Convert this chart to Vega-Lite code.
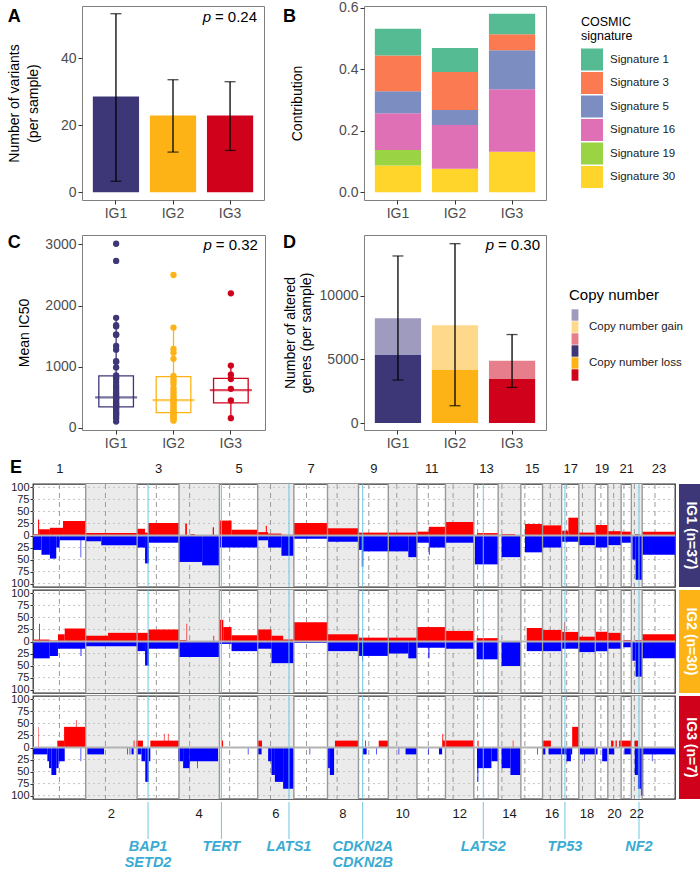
{
"$schema":"https://vega.github.io/schema/vega-lite/v6.json",
"padding":{"left":7,"top":0,"right":0,"bottom":0},
"background":"white",
"align":"each",
"resolve":{"scale":{"color":"independent","stroke":"independent"},"legend":{"color":"independent","stroke":"independent"}},
"config":{
 "font":"Liberation Sans",
 "view":{"stroke":"#7f7f7f","strokeWidth":1},
 "axis":{"labelColor":"#4d4d4d","labelFontSize":14,"titleFontSize":14,"titleFontWeight":"normal","titleColor":"#000000","tickColor":"#333333","tickSize":4,"domain":false,"grid":false,"labelPadding":2,"titlePadding":6,"labelOverlap":false},
 "title":{"fontSize":18,"fontWeight":"bold","anchor":"start","frame":"bounds","baseline":"top","color":"#000000"}
},
"datasets":{
 "ta":[{"g":"IG1","m":28.6,"lo":3.3,"hi":53.3},{"g":"IG2","m":22.9,"lo":12.0,"hi":33.6},{"g":"IG3","m":22.9,"lo":12.5,"hi":33.0}],
 "tb":[
  {"g":"IG1","sig":"Signature 30","val":0.087},{"g":"IG1","sig":"Signature 19","val":0.051},{"g":"IG1","sig":"Signature 16","val":0.119},{"g":"IG1","sig":"Signature 5","val":0.072},{"g":"IG1","sig":"Signature 3","val":0.116},{"g":"IG1","sig":"Signature 1","val":0.087},
  {"g":"IG2","sig":"Signature 30","val":0.077},{"g":"IG2","sig":"Signature 16","val":0.142},{"g":"IG2","sig":"Signature 5","val":0.049},{"g":"IG2","sig":"Signature 3","val":0.123},{"g":"IG2","sig":"Signature 1","val":0.078},
  {"g":"IG3","sig":"Signature 30","val":0.132},{"g":"IG3","sig":"Signature 16","val":0.203},{"g":"IG3","sig":"Signature 5","val":0.127},{"g":"IG3","sig":"Signature 3","val":0.052},{"g":"IG3","sig":"Signature 1","val":0.067}],
 "cbox":[{"g":"IG1","lo":105,"q1":345,"med":500,"q3":850,"hi":1800},{"g":"IG2","lo":120,"q1":250,"med":455,"q3":840,"hi":1640},{"g":"IG3","lo":160,"q1":410,"med":620,"q3":810,"hi":1020}],
 "cpts":[
  {"g":"IG1","ic50":3010},{"g":"IG1","ic50":2730},{"g":"IG1","ic50":1800},{"g":"IG1","ic50":1680},{"g":"IG1","ic50":1660},{"g":"IG1","ic50":1530},{"g":"IG1","ic50":1520},{"g":"IG1","ic50":1340},{"g":"IG1","ic50":1280},{"g":"IG1","ic50":1090},{"g":"IG1","ic50":1080},{"g":"IG1","ic50":990},{"g":"IG1","ic50":860},{"g":"IG1","ic50":830},{"g":"IG1","ic50":800},{"g":"IG1","ic50":750},{"g":"IG1","ic50":700},{"g":"IG1","ic50":660},{"g":"IG1","ic50":620},{"g":"IG1","ic50":580},{"g":"IG1","ic50":550},{"g":"IG1","ic50":520},{"g":"IG1","ic50":500},{"g":"IG1","ic50":480},{"g":"IG1","ic50":460},{"g":"IG1","ic50":430},{"g":"IG1","ic50":400},{"g":"IG1","ic50":380},{"g":"IG1","ic50":360},{"g":"IG1","ic50":340},{"g":"IG1","ic50":310},{"g":"IG1","ic50":280},{"g":"IG1","ic50":250},{"g":"IG1","ic50":230},{"g":"IG1","ic50":200},{"g":"IG1","ic50":160},{"g":"IG1","ic50":105},
  {"g":"IG2","ic50":2500},{"g":"IG2","ic50":1640},{"g":"IG2","ic50":1290},{"g":"IG2","ic50":1230},{"g":"IG2","ic50":1130},{"g":"IG2","ic50":850},{"g":"IG2","ic50":800},{"g":"IG2","ic50":760},{"g":"IG2","ic50":720},{"g":"IG2","ic50":650},{"g":"IG2","ic50":600},{"g":"IG2","ic50":560},{"g":"IG2","ic50":520},{"g":"IG2","ic50":480},{"g":"IG2","ic50":460},{"g":"IG2","ic50":440},{"g":"IG2","ic50":420},{"g":"IG2","ic50":390},{"g":"IG2","ic50":360},{"g":"IG2","ic50":330},{"g":"IG2","ic50":300},{"g":"IG2","ic50":280},{"g":"IG2","ic50":260},{"g":"IG2","ic50":240},{"g":"IG2","ic50":220},{"g":"IG2","ic50":200},{"g":"IG2","ic50":180},{"g":"IG2","ic50":160},{"g":"IG2","ic50":140},{"g":"IG2","ic50":120},
  {"g":"IG3","ic50":2200},{"g":"IG3","ic50":1020},{"g":"IG3","ic50":870},{"g":"IG3","ic50":800},{"g":"IG3","ic50":640},{"g":"IG3","ic50":450},{"g":"IG3","ic50":160}],
 "dbar":[{"g":"IG1","t":"loss","k":"IG1 loss","n":5340},{"g":"IG1","t":"gain","k":"IG1 gain","n":2905},{"g":"IG2","t":"loss","k":"IG2 loss","n":4160},{"g":"IG2","t":"gain","k":"IG2 gain","n":3530},{"g":"IG3","t":"loss","k":"IG3 loss","n":3500},{"g":"IG3","t":"gain","k":"IG3 gain","n":1390}],
 "derr":[{"g":"IG1","lo":3375,"hi":13132},{"g":"IG2","lo":1360,"hi":14097},{"g":"IG3","lo":2795,"hi":6955}],
 "chr":[
  {"n":1,"s":0,"e":249.25,"cen":125.0,"m":124.6,"ev":false},
  {"n":2,"s":249.25,"e":492.45,"cen":342.55,"m":370.9,"ev":true},
  {"n":3,"s":492.45,"e":690.47,"cen":583.45,"m":591.5,"ev":false},
  {"n":4,"s":690.47,"e":881.62,"cen":740.87,"m":786.0,"ev":true},
  {"n":5,"s":881.62,"e":1062.54,"cen":930.02,"m":972.1,"ev":false},
  {"n":6,"s":1062.54,"e":1233.66,"cen":1123.54,"m":1148.1,"ev":true},
  {"n":7,"s":1233.66,"e":1392.8,"cen":1293.56,"m":1313.2,"ev":false},
  {"n":8,"s":1392.8,"e":1539.16,"cen":1438.4,"m":1466.0,"ev":true},
  {"n":9,"s":1539.16,"e":1680.37,"cen":1588.16,"m":1609.8,"ev":false},
  {"n":10,"s":1680.37,"e":1815.9,"cen":1720.57,"m":1748.1,"ev":true},
  {"n":11,"s":1815.9,"e":1950.91,"cen":1869.6,"m":1883.4,"ev":false},
  {"n":12,"s":1950.91,"e":2084.76,"cen":1986.71,"m":2017.8,"ev":true},
  {"n":13,"s":2084.76,"e":2199.93,"cen":2102.66,"m":2142.3,"ev":false},
  {"n":14,"s":2199.93,"e":2307.28,"cen":2217.53,"m":2253.6,"ev":true},
  {"n":15,"s":2307.28,"e":2409.81,"cen":2326.28,"m":2358.5,"ev":false},
  {"n":16,"s":2409.81,"e":2500.16,"cen":2446.41,"m":2455.0,"ev":true},
  {"n":17,"s":2500.16,"e":2581.36,"cen":2524.16,"m":2540.8,"ev":false},
  {"n":18,"s":2581.36,"e":2659.44,"cen":2598.56,"m":2620.4,"ev":true},
  {"n":19,"s":2659.44,"e":2718.57,"cen":2685.94,"m":2689.0,"ev":false},
  {"n":20,"s":2718.57,"e":2781.6,"cen":2746.07,"m":2750.1,"ev":true},
  {"n":21,"s":2781.6,"e":2829.73,"cen":2794.8,"m":2805.7,"ev":false},
  {"n":22,"s":2829.73,"e":2881.03,"cen":2844.43,"m":2855.4,"ev":true},
  {"n":23,"s":2881.03,"e":3036.3,"cen":2941.63,"m":2958.7,"ev":false}],
 "genes":[{"x":544.2,"lab":"BAP1\nSETD2"},{"x":891.1,"lab":"TERT"},{"x":1210.6,"lab":"LATS1"},{"x":1559.3,"lab":"CDKN2A\nCDKN2B"},{"x":2129.6,"lab":"LATS2"},{"x":2515.8,"lab":"TP53"},{"x":2866.0,"lab":"NF2"}],
 "hl":[{"h":-100},{"h":-75},{"h":-50},{"h":-25},{"h":25},{"h":50},{"h":75},{"h":100}],
 "zl":[{"z":0}],
 "cnv":[
  {"g":"IG1","s":0,"e":24,"v":3},{"g":"IG1","s":24,"e":29,"v":33},{"g":"IG1","s":29,"e":80,"v":13},{"g":"IG1","s":80,"e":142,"v":16},{"g":"IG1","s":142,"e":249,"v":30},
  {"g":"IG1","s":249,"e":492,"v":5},{"g":"IG1","s":492,"e":530,"v":14},{"g":"IG1","s":530,"e":545,"v":6},{"g":"IG1","s":545,"e":690,"v":26},
  {"g":"IG1","s":720,"e":728,"v":25},{"g":"IG1","s":745,"e":765,"v":3},{"g":"IG1","s":850,"e":856,"v":17},
  {"g":"IG1","s":882,"e":939,"v":31},{"g":"IG1","s":939,"e":1062,"v":12},
  {"g":"IG1","s":1062,"e":1112,"v":7},{"g":"IG1","s":1101,"e":1106,"v":20},{"g":"IG1","s":1112,"e":1175,"v":4},{"g":"IG1","s":1175,"e":1233,"v":1.5},
  {"g":"IG1","s":1234,"e":1393,"v":26},{"g":"IG1","s":1393,"e":1539,"v":15},{"g":"IG1","s":1539,"e":1680,"v":6},{"g":"IG1","s":1680,"e":1816,"v":6},
  {"g":"IG1","s":1816,"e":1872,"v":8},{"g":"IG1","s":1872,"e":1951,"v":18},{"g":"IG1","s":1951,"e":2085,"v":28},{"g":"IG1","s":2100,"e":2200,"v":5},
  {"g":"IG1","s":2216,"e":2280,"v":3},{"g":"IG1","s":2327,"e":2410,"v":24},{"g":"IG1","s":2410,"e":2500,"v":21},
  {"g":"IG1","s":2500,"e":2532,"v":10},{"g":"IG1","s":2532,"e":2579,"v":37},{"g":"IG1","s":2579,"e":2581,"v":10},
  {"g":"IG1","s":2581,"e":2659,"v":6},{"g":"IG1","s":2659,"e":2719,"v":22},{"g":"IG1","s":2719,"e":2782,"v":9},{"g":"IG1","s":2782,"e":2830,"v":8},
  {"g":"IG1","s":2847,"e":2870,"v":3},{"g":"IG1","s":2881,"e":3036,"v":8},
  {"g":"IG1","s":0,"e":40,"v":-30},{"g":"IG1","s":40,"e":80,"v":-40},{"g":"IG1","s":80,"e":110,"v":-48},{"g":"IG1","s":110,"e":126,"v":-25},{"g":"IG1","s":126,"e":249,"v":-10},{"g":"IG1","s":225,"e":228,"v":-45},
  {"g":"IG1","s":249,"e":323,"v":-12},{"g":"IG1","s":323,"e":492,"v":-20},
  {"g":"IG1","s":492,"e":530,"v":-25},{"g":"IG1","s":530,"e":548,"v":-58},{"g":"IG1","s":548,"e":690,"v":-15},
  {"g":"IG1","s":690,"e":800,"v":-55},{"g":"IG1","s":800,"e":882,"v":-62},{"g":"IG1","s":882,"e":1062,"v":-25},
  {"g":"IG1","s":1062,"e":1112,"v":-10},{"g":"IG1","s":1112,"e":1175,"v":-25},{"g":"IG1","s":1175,"e":1233,"v":-42},
  {"g":"IG1","s":1234,"e":1393,"v":-7},{"g":"IG1","s":1393,"e":1539,"v":-13},
  {"g":"IG1","s":1539,"e":1555,"v":-30},{"g":"IG1","s":1555,"e":1562,"v":-65},{"g":"IG1","s":1562,"e":1680,"v":-33},
  {"g":"IG1","s":1680,"e":1775,"v":-33},{"g":"IG1","s":1775,"e":1816,"v":-45},
  {"g":"IG1","s":1816,"e":1872,"v":-15},{"g":"IG1","s":1872,"e":1876,"v":-40},{"g":"IG1","s":1876,"e":1951,"v":-25},
  {"g":"IG1","s":1951,"e":2085,"v":-15},{"g":"IG1","s":2090,"e":2200,"v":-60},{"g":"IG1","s":2216,"e":2307,"v":-45},
  {"g":"IG1","s":2327,"e":2410,"v":-35},{"g":"IG1","s":2410,"e":2500,"v":-25},{"g":"IG1","s":2500,"e":2581,"v":-13},
  {"g":"IG1","s":2581,"e":2659,"v":-20},{"g":"IG1","s":2659,"e":2719,"v":-25},{"g":"IG1","s":2719,"e":2782,"v":-20},
  {"g":"IG1","s":2782,"e":2830,"v":-15},{"g":"IG1","s":2835,"e":2850,"v":-50},{"g":"IG1","s":2850,"e":2881,"v":-92},{"g":"IG1","s":2881,"e":3036,"v":-40},

  {"g":"IG2","s":0,"e":79,"v":4},{"g":"IG2","s":29,"e":33,"v":37},{"g":"IG2","s":79,"e":118,"v":2},{"g":"IG2","s":118,"e":150,"v":15},{"g":"IG2","s":150,"e":249,"v":27},
  {"g":"IG2","s":249,"e":355,"v":12},{"g":"IG2","s":355,"e":492,"v":18},{"g":"IG2","s":492,"e":545,"v":18},{"g":"IG2","s":545,"e":690,"v":25},
  {"g":"IG2","s":690,"e":725,"v":3},{"g":"IG2","s":726,"e":729,"v":37},{"g":"IG2","s":853,"e":857,"v":12},
  {"g":"IG2","s":882,"e":900,"v":45},{"g":"IG2","s":900,"e":939,"v":30},{"g":"IG2","s":939,"e":1062,"v":13},
  {"g":"IG2","s":1062,"e":1128,"v":25},{"g":"IG2","s":1128,"e":1183,"v":12},{"g":"IG2","s":1183,"e":1233,"v":4},
  {"g":"IG2","s":1234,"e":1393,"v":40},{"g":"IG2","s":1393,"e":1539,"v":15},{"g":"IG2","s":1539,"e":1680,"v":8},{"g":"IG2","s":1680,"e":1816,"v":8},
  {"g":"IG2","s":1816,"e":1951,"v":30},{"g":"IG2","s":1951,"e":2085,"v":22},{"g":"IG2","s":2098,"e":2200,"v":7},
  {"g":"IG2","s":2335,"e":2410,"v":28},{"g":"IG2","s":2410,"e":2500,"v":24},{"g":"IG2","s":2500,"e":2581,"v":20},{"g":"IG2","s":2511,"e":2515,"v":40},
  {"g":"IG2","s":2581,"e":2659,"v":10},{"g":"IG2","s":2659,"e":2719,"v":20},{"g":"IG2","s":2719,"e":2782,"v":18},{"g":"IG2","s":2792,"e":2830,"v":3},
  {"g":"IG2","s":2847,"e":2881,"v":3},{"g":"IG2","s":2881,"e":3036,"v":15},
  {"g":"IG2","s":0,"e":79,"v":-35},{"g":"IG2","s":79,"e":118,"v":-30},{"g":"IG2","s":118,"e":249,"v":-15},{"g":"IG2","s":225,"e":229,"v":-30},
  {"g":"IG2","s":249,"e":492,"v":-10},{"g":"IG2","s":492,"e":530,"v":-20},{"g":"IG2","s":530,"e":548,"v":-50},{"g":"IG2","s":548,"e":690,"v":-15},
  {"g":"IG2","s":690,"e":882,"v":-32},{"g":"IG2","s":882,"e":939,"v":-5},{"g":"IG2","s":939,"e":1062,"v":-20},
  {"g":"IG2","s":1062,"e":1128,"v":-15},{"g":"IG2","s":1128,"e":1233,"v":-45},{"g":"IG2","s":1234,"e":1393,"v":-3},{"g":"IG2","s":1393,"e":1539,"v":-20},
  {"g":"IG2","s":1539,"e":1680,"v":-30},{"g":"IG2","s":1556,"e":1561,"v":-40},{"g":"IG2","s":1680,"e":1775,"v":-25},{"g":"IG2","s":1775,"e":1816,"v":-35},
  {"g":"IG2","s":1816,"e":1951,"v":-13},{"g":"IG2","s":1870,"e":1875,"v":-35},{"g":"IG2","s":1951,"e":2085,"v":-15},{"g":"IG2","s":2098,"e":2200,"v":-37},
  {"g":"IG2","s":2216,"e":2307,"v":-51},{"g":"IG2","s":2335,"e":2410,"v":-20},{"g":"IG2","s":2410,"e":2500,"v":-20},{"g":"IG2","s":2500,"e":2581,"v":-15},
  {"g":"IG2","s":2581,"e":2659,"v":-22},{"g":"IG2","s":2659,"e":2719,"v":-20},{"g":"IG2","s":2719,"e":2782,"v":-15},{"g":"IG2","s":2792,"e":2830,"v":-12},
  {"g":"IG2","s":2835,"e":2850,"v":-40},{"g":"IG2","s":2850,"e":2881,"v":-73},{"g":"IG2","s":2881,"e":3036,"v":-35},

  {"g":"IG3","s":26,"e":28,"v":43},{"g":"IG3","s":115,"e":147,"v":14.3},{"g":"IG3","s":147,"e":249,"v":42.9},{"g":"IG3","s":203,"e":206,"v":57.1},
  {"g":"IG3","s":476,"e":480,"v":14.3},{"g":"IG3","s":489,"e":520,"v":14.3},{"g":"IG3","s":555,"e":690,"v":14.3},{"g":"IG3","s":619,"e":622,"v":28.6},{"g":"IG3","s":638,"e":641,"v":28.6},
  {"g":"IG3","s":894,"e":899,"v":14.3},{"g":"IG3","s":1065,"e":1083,"v":14.3},
  {"g":"IG3","s":1428,"e":1539,"v":14.3},{"g":"IG3","s":1571,"e":1575,"v":14.3},{"g":"IG3","s":1635,"e":1680,"v":14.3},
  {"g":"IG3","s":1937,"e":2083,"v":14.3},{"g":"IG3","s":1936,"e":1940,"v":28.6},{"g":"IG3","s":2104,"e":2107,"v":14.3},{"g":"IG3","s":2269,"e":2272,"v":14.3},
  {"g":"IG3","s":2413,"e":2449,"v":14.3},{"g":"IG3","s":2550,"e":2582,"v":42.9},
  {"g":"IG3","s":2734,"e":2744,"v":14.3},{"g":"IG3","s":2755,"e":2761,"v":14.3},{"g":"IG3","s":2772,"e":2829,"v":14.3},{"g":"IG3","s":2846,"e":2861,"v":14.3},
  {"g":"IG3","s":0,"e":68,"v":-14.3},{"g":"IG3","s":68,"e":76,"v":-28.6},{"g":"IG3","s":76,"e":87,"v":-42.9},{"g":"IG3","s":87,"e":110,"v":-57.1},{"g":"IG3","s":110,"e":121,"v":-42.9},{"g":"IG3","s":121,"e":150,"v":-28.6},{"g":"IG3","s":225,"e":228,"v":-28.6},
  {"g":"IG3","s":257,"e":336,"v":-14.3},{"g":"IG3","s":446,"e":449,"v":-14.3},{"g":"IG3","s":457,"e":460,"v":-14.3},{"g":"IG3","s":466,"e":476,"v":-14.3},
  {"g":"IG3","s":494,"e":513,"v":-14.3},{"g":"IG3","s":513,"e":531,"v":-28.6},{"g":"IG3","s":531,"e":547,"v":-71.4},{"g":"IG3","s":547,"e":555,"v":-28.6},
  {"g":"IG3","s":686,"e":710,"v":-28.6},{"g":"IG3","s":710,"e":741,"v":-42.9},{"g":"IG3","s":741,"e":875,"v":-28.6},{"g":"IG3","s":776,"e":779,"v":-42.9},
  {"g":"IG3","s":1016,"e":1019,"v":-14.3},{"g":"IG3","s":1065,"e":1081,"v":-14.3},{"g":"IG3","s":1112,"e":1128,"v":-28.6},{"g":"IG3","s":1128,"e":1144,"v":-57.1},{"g":"IG3","s":1144,"e":1183,"v":-71.4},{"g":"IG3","s":1183,"e":1233,"v":-85.7},
  {"g":"IG3","s":1308,"e":1311,"v":-14.3},{"g":"IG3","s":1392,"e":1404,"v":-42.9},{"g":"IG3","s":1404,"e":1424,"v":-57.1},
  {"g":"IG3","s":1561,"e":1578,"v":-14.3},{"g":"IG3","s":1623,"e":1626,"v":-14.3},{"g":"IG3","s":1729,"e":1732,"v":-14.3},{"g":"IG3","s":1762,"e":1815,"v":-14.3},
  {"g":"IG3","s":1870,"e":1873,"v":-14.3},{"g":"IG3","s":1920,"e":1935,"v":-14.3},
  {"g":"IG3","s":2100,"e":2168,"v":-42.9},{"g":"IG3","s":2102,"e":2106,"v":-71.4},{"g":"IG3","s":2168,"e":2199,"v":-28.6},
  {"g":"IG3","s":2216,"e":2258,"v":-42.9},{"g":"IG3","s":2258,"e":2305,"v":-57.1},{"g":"IG3","s":2384,"e":2387,"v":-14.3},
  {"g":"IG3","s":2412,"e":2423,"v":-14.3},{"g":"IG3","s":2438,"e":2501,"v":-14.3},
  {"g":"IG3","s":2501,"e":2523,"v":-14.3},{"g":"IG3","s":2523,"e":2544,"v":-28.6},{"g":"IG3","s":2544,"e":2550,"v":-14.3},
  {"g":"IG3","s":2586,"e":2670,"v":-14.3},{"g":"IG3","s":2606,"e":2609,"v":-28.6},{"g":"IG3","s":2692,"e":2717,"v":-28.6},{"g":"IG3","s":2723,"e":2749,"v":-14.3},
  {"g":"IG3","s":2797,"e":2829,"v":-14.3},{"g":"IG3","s":2846,"e":2861,"v":-57.1},{"g":"IG3","s":2861,"e":2875,"v":-85.7},{"g":"IG3","s":2875,"e":2886,"v":-100},
  {"g":"IG3","s":2886,"e":3036,"v":-14.3},{"g":"IG3","s":2927,"e":2930,"v":-28.6}]
},
"vconcat":[
 {"hconcat":[
  {"width":49,"height":1,"view":{"stroke":null},"data":{"values":[{}]},"mark":{"type":"text","text":""},"encoding":{}},
  {"vconcat":[
  {"hconcat":[
   {"width":182,"height":194,
    "title":{"text":"A","offset":-20},
    "data":{"name":"ta"},
    "encoding":{"x":{"field":"g","type":"nominal","scale":{"paddingInner":0.19,"paddingOuter":0.19},"axis":{"title":null,"labelAngle":0}}},
    "layer":[
     {"mark":{"type":"bar"},"encoding":{"y":{"field":"m","type":"quantitative","scale":{"domain":[-2.3,55.6],"nice":false},"axis":{"title":["Number of variants","(per sample)"],"values":[0,20,40],"titlePadding":19.6,"titleLineHeight":19}},"color":{"field":"g","type":"nominal","scale":{"domain":["IG1","IG2","IG3"],"range":["#3D3778","#FDB316","#D0021B"]},"legend":null}}},
     {"mark":{"type":"rule","color":"#000000","strokeWidth":1.3},"encoding":{"y":{"field":"lo","type":"quantitative"},"y2":{"field":"hi"}}},
     {"mark":{"type":"tick","color":"#000000","size":11,"thickness":1.3},"encoding":{"y":{"field":"lo","type":"quantitative"}}},
     {"mark":{"type":"tick","color":"#000000","size":11,"thickness":1.3},"encoding":{"y":{"field":"hi","type":"quantitative"}}},
     {"data":{"values":[{"t":"= 0.24"}]},"mark":{"type":"text","align":"right","baseline":"middle","fontSize":15,"dx":27,"color":"#000000"},"encoding":{"x":{"datum":"IG3"},"y":{"datum":52.4},"text":{"field":"t"}}},
     {"data":{"values":[{"t":"p"}]},"mark":{"type":"text","align":"right","baseline":"middle","fontSize":15,"fontStyle":"italic","dx":-19,"color":"#000000"},"encoding":{"x":{"datum":"IG3"},"y":{"datum":52.4},"text":{"field":"t"}}}
    ]},
   {"width":182,"height":194,
    "title":{"text":"B","offset":-25,"dx":-7},
    "data":{"name":"tb"},
    "transform":[{"calculate":"indexof(['Signature 30','Signature 19','Signature 16','Signature 5','Signature 3','Signature 1'], datum.sig)","as":"o"}],
    "mark":{"type":"bar"},
    "encoding":{
     "x":{"field":"g","type":"nominal","scale":{"paddingInner":0.19,"paddingOuter":0.19},"axis":{"title":null,"labelAngle":0}},
     "y":{"field":"val","type":"quantitative","stack":"zero","scale":{"domain":[-0.025,0.606],"nice":false},"axis":{"title":"Contribution","values":[0,0.2,0.4,0.6],"format":".1f","titlePadding":34.5}},
     "color":{"field":"sig","type":"nominal","scale":{"domain":["Signature 1","Signature 3","Signature 5","Signature 16","Signature 19","Signature 30"],"range":["#55BB92","#FB7A51","#7C8DC2","#DF70B6","#9AD445","#FFD42B"]},
      "legend":{"orient":"none","legendX":217,"legendY":10,"title":["COSMIC","signature"],"titleFontSize":12.5,"titleFontWeight":"normal","titleColor":"#000000","titleLineHeight":14,"titlePadding":6,"symbolType":"square","symbolSize":484,"symbolStrokeWidth":0,"symbolOpacity":1,"labelFontSize":11.5,"labelColor":"#1a1a1a","rowPadding":1.5,"labelOffset":7}},
     "order":{"field":"o","type":"quantitative"}
    }}
  ],"spacing":17,"resolve":{"scale":{"color":"independent"},"legend":{"color":"independent"}}},
  {"hconcat":[
   {"width":183,"height":195,
    "title":{"text":"C","offset":-17,"dx":-10},
    "layer":[
     {"data":{"name":"cbox"},"mark":{"type":"rule","strokeWidth":1.3},"encoding":{"x":{"field":"g","type":"nominal","scale":{"paddingInner":0.19,"paddingOuter":0.19},"axis":{"title":null,"labelAngle":0}},"y":{"field":"lo","type":"quantitative","scale":{"domain":[-33,3153],"nice":false},"axis":{"title":"Mean IC50","values":[0,1000,2000,3000],"format":"d","titlePadding":13}},"y2":{"field":"hi"},"color":{"field":"g","type":"nominal","scale":{"domain":["IG1","IG2","IG3"],"range":["#3D3778","#FDB316","#D0021B"]},"legend":null}}},
     {"data":{"name":"cbox"},"mark":{"type":"bar","fill":"white","strokeWidth":1.3,"width":{"band":0.745}},"encoding":{"x":{"field":"g","type":"nominal"},"y":{"field":"q1","type":"quantitative"},"y2":{"field":"q3"},"stroke":{"field":"g","type":"nominal","scale":{"domain":["IG1","IG2","IG3"],"range":["#3D3778","#FDB316","#D0021B"]},"legend":null}}},
     {"data":{"name":"cbox"},"mark":{"type":"tick","thickness":2.2,"size":42},"encoding":{"x":{"field":"g","type":"nominal"},"y":{"field":"med","type":"quantitative"},"color":{"field":"g","type":"nominal","legend":null}}},
     {"data":{"name":"cpts"},"mark":{"type":"circle","size":40,"opacity":1},"encoding":{"x":{"field":"g","type":"nominal"},"y":{"field":"ic50","type":"quantitative"},"color":{"field":"g","type":"nominal","legend":null}}},
     {"data":{"values":[{"t":"= 0.32"}]},"mark":{"type":"text","align":"right","baseline":"middle","fontSize":15,"dx":27,"color":"#000000"},"encoding":{"x":{"datum":"IG3"},"y":{"datum":2987},"text":{"field":"t"}}},
     {"data":{"values":[{"t":"p"}]},"mark":{"type":"text","align":"right","baseline":"middle","fontSize":15,"fontStyle":"italic","dx":-19,"color":"#000000"},"encoding":{"x":{"datum":"IG3"},"y":{"datum":2987},"text":{"field":"t"}}}
    ]},
   {"width":182,"height":195,
    "title":{"text":"D","offset":-17},
    "layer":[
     {"data":{"name":"dbar"},"transform":[{"calculate":"datum.t=='loss'?0:1","as":"o"}],"mark":{"type":"bar"},"encoding":{"x":{"field":"g","type":"nominal","scale":{"paddingInner":0.19,"paddingOuter":0.19},"axis":{"title":null,"labelAngle":0}},"y":{"field":"n","type":"quantitative","stack":"zero","scale":{"domain":[-549,14780],"nice":false},"axis":{"title":["Number of altered","genes (per sample)"],"values":[0,5000,10000],"format":"d","titlePadding":6,"titleLineHeight":16}},
      "color":{"field":"k","type":"nominal","scale":{"domain":["IG1 gain","IG2 gain","IG3 gain","IG1 loss","IG2 loss","IG3 loss"],"range":["#9E9BBF","#FED98B","#E67F8B","#3D3778","#FDB316","#D0021B"]},
       "legend":{"orient":"none","legendX":205,"legendY":53,"title":"Copy number","titleFontSize":15,"titleFontWeight":"normal","titleColor":"#000000","titlePadding":6,"symbolType":"M-0.6,-1H0.6V1H-0.6Z","symbolSize":130,"symbolStrokeWidth":0,"symbolOpacity":1,"labelFontSize":11.5,"labelColor":"#1a1a1a","rowPadding":0,"labelOffset":8,"labelExpr":"datum.label=='IG2 gain'?'Copy number gain':(datum.label=='IG2 loss'?'Copy number loss':'')"}},
      "order":{"field":"o","type":"quantitative"}}},
     {"data":{"name":"derr"},"mark":{"type":"rule","color":"#000000","strokeWidth":1.3},"encoding":{"x":{"field":"g","type":"nominal"},"y":{"field":"lo","type":"quantitative"},"y2":{"field":"hi"}}},
     {"data":{"name":"derr"},"mark":{"type":"tick","color":"#000000","size":11,"thickness":1.3},"encoding":{"x":{"field":"g","type":"nominal"},"y":{"field":"lo","type":"quantitative"}}},
     {"data":{"name":"derr"},"mark":{"type":"tick","color":"#000000","size":11,"thickness":1.3},"encoding":{"x":{"field":"g","type":"nominal"},"y":{"field":"hi","type":"quantitative"}}},
     {"data":{"values":[{"t":"= 0.30"}]},"mark":{"type":"text","align":"right","baseline":"middle","fontSize":15,"dx":28,"color":"#000000"},"encoding":{"x":{"datum":"IG3"},"y":{"datum":13986},"text":{"field":"t"}}},
     {"data":{"values":[{"t":"p"}]},"mark":{"type":"text","align":"right","baseline":"middle","fontSize":15,"fontStyle":"italic","dx":-18,"color":"#000000"},"encoding":{"x":{"datum":"IG3"},"y":{"datum":13986},"text":{"field":"t"}}}
    ]}
  ],"spacing":16,"resolve":{"scale":{"color":"independent"},"legend":{"color":"independent"}}}
 ],"spacing":12,"align":"each","resolve":{"scale":{"color":"independent","stroke":"independent"},"legend":{"color":"independent","stroke":"independent"}}}
 ],"spacing":0,"bounds":"flush","resolve":{"scale":{"color":"independent","stroke":"independent"},"legend":{"color":"independent","stroke":"independent"}}},
 {"title":{"text":"E","offset":-16},
  "vconcat":[
  {"vconcat":[
   {"hconcat":[
    {"width":642,"height":103,"view":{"stroke":"#333333","strokeWidth":1.3},
     "layer":[
      {"data":{"name":"chr"},"transform":[{"filter":"datum.ev"}],"mark":{"type":"rect","color":"#ebebeb"},"encoding":{"x":{"field":"s","type":"quantitative","scale":{"domain":[0,3036.3],"nice":false,"zero":false},"axis":{"orient":"top","title":null,"values":[124.6,591.5,972.1,1313.2,1609.8,1883.4,2142.3,2358.5,2540.8,2689.0,2805.7,2958.7],"labelExpr":"['1','3','5','7','9','11','13','15','17','19','21','23'][indexof([124.6,591.5,972.1,1313.2,1609.8,1883.4,2142.3,2358.5,2540.8,2689.0,2805.7,2958.7], datum.value)]","ticks":false,"labelPadding":9,"labelFontSize":13,"labelColor":"#1a1a1a","labelFlush":false}},"x2":{"field":"e"}}},
      {"data":{"name":"hl"},"mark":{"type":"rule","color":"#c4c4c4","strokeDash":[2,3],"strokeWidth":1},"encoding":{"y":{"field":"h","type":"quantitative","scale":{"domain":[-107,107],"nice":false},"axis":{"title":null,"values":[-100,-75,-50,-25,0,25,50,75,100],"labelExpr":"abs(datum.value)","labelFontSize":11,"labelColor":"#1a1a1a","tickSize":3,"labelPadding":1,"labelOverlap":false}}}},
      {"data":{"name":"chr"},"mark":{"type":"rule","color":"#9a9a9a","strokeDash":[5,4],"strokeWidth":1},"encoding":{"x":{"field":"cen","type":"quantitative","axis":{"title":null}}}},
      {"data":{"name":"cnv"},"transform":[{"filter":"datum.g=='IG1'"}],"mark":{"type":"rect"},"encoding":{"x":{"field":"s","type":"quantitative","axis":{"title":null}},"x2":{"field":"e"},"y":{"field":"v","type":"quantitative","axis":{"title":null,"values":[-100,-75,-50,-25,0,25,50,75,100],"labelExpr":"abs(datum.value)","labelFontSize":11,"labelColor":"#1a1a1a","tickSize":3,"labelPadding":1,"labelOverlap":false}},"y2":{"datum":0},"color":{"condition":{"test":"datum.v>0","value":"#ff0000"},"value":"#0000ff"}}},
      {"data":{"name":"chr"},"transform":[{"filter":"datum.s>0"}],"mark":{"type":"rule","color":"#999999","strokeWidth":1.4},"encoding":{"x":{"field":"s","type":"quantitative","axis":{"title":null}}}},
      {"data":{"name":"zl"},"mark":{"type":"rule","color":"#b3b3b3","strokeWidth":2},"encoding":{"y":{"field":"z","type":"quantitative","axis":{"title":null,"values":[-100,-75,-50,-25,0,25,50,75,100],"labelExpr":"abs(datum.value)","labelFontSize":11,"labelColor":"#1a1a1a","tickSize":3,"labelPadding":1,"labelOverlap":false}}}},
      {"data":{"name":"genes"},"mark":{"type":"rule","color":"#6EC6E0","strokeWidth":1},"encoding":{"x":{"field":"x","type":"quantitative","axis":{"title":null}}}}
     ]},
    {"width":24,"height":103,"view":{"stroke":null},"data":{"values":[{"t":"IG1 (n=37)"}]},
     "layer":[{"mark":{"type":"rect","color":"#3D3778"},"encoding":{}},{"mark":{"type":"text","angle":90,"color":"white","fontSize":14,"fontWeight":"bold"},"encoding":{"text":{"field":"t"}}}]}
   ],"spacing":2},
   {"hconcat":[
    {"width":642,"height":103,"view":{"stroke":"#333333","strokeWidth":1.3},
     "layer":[
      {"data":{"name":"chr"},"transform":[{"filter":"datum.ev"}],"mark":{"type":"rect","color":"#ebebeb"},"encoding":{"x":{"field":"s","type":"quantitative","scale":{"domain":[0,3036.3],"nice":false,"zero":false},"axis":null},"x2":{"field":"e"}}},
      {"data":{"name":"hl"},"mark":{"type":"rule","color":"#c4c4c4","strokeDash":[2,3],"strokeWidth":1},"encoding":{"y":{"field":"h","type":"quantitative","scale":{"domain":[-107,107],"nice":false},"axis":{"title":null,"values":[-100,-75,-50,-25,0,25,50,75,100],"labelExpr":"abs(datum.value)","labelFontSize":11,"labelColor":"#1a1a1a","tickSize":3,"labelPadding":1,"labelOverlap":false}}}},
      {"data":{"name":"chr"},"mark":{"type":"rule","color":"#9a9a9a","strokeDash":[5,4],"strokeWidth":1},"encoding":{"x":{"field":"cen","type":"quantitative","axis":null}}},
      {"data":{"name":"cnv"},"transform":[{"filter":"datum.g=='IG2'"}],"mark":{"type":"rect"},"encoding":{"x":{"field":"s","type":"quantitative","axis":null},"x2":{"field":"e"},"y":{"field":"v","type":"quantitative","axis":{"title":null,"values":[-100,-75,-50,-25,0,25,50,75,100],"labelExpr":"abs(datum.value)","labelFontSize":11,"labelColor":"#1a1a1a","tickSize":3,"labelPadding":1,"labelOverlap":false}},"y2":{"datum":0},"color":{"condition":{"test":"datum.v>0","value":"#ff0000"},"value":"#0000ff"}}},
      {"data":{"name":"chr"},"transform":[{"filter":"datum.s>0"}],"mark":{"type":"rule","color":"#999999","strokeWidth":1.4},"encoding":{"x":{"field":"s","type":"quantitative","axis":null}}},
      {"data":{"name":"zl"},"mark":{"type":"rule","color":"#b3b3b3","strokeWidth":2},"encoding":{"y":{"field":"z","type":"quantitative","axis":{"title":null,"values":[-100,-75,-50,-25,0,25,50,75,100],"labelExpr":"abs(datum.value)","labelFontSize":11,"labelColor":"#1a1a1a","tickSize":3,"labelPadding":1,"labelOverlap":false}}}},
      {"data":{"name":"genes"},"mark":{"type":"rule","color":"#6EC6E0","strokeWidth":1},"encoding":{"x":{"field":"x","type":"quantitative","axis":null}}}
     ]},
    {"width":24,"height":103,"view":{"stroke":null},"data":{"values":[{"t":"IG2 (n=30)"}]},
     "layer":[{"mark":{"type":"rect","color":"#FDB316"},"encoding":{}},{"mark":{"type":"text","angle":90,"color":"white","fontSize":14,"fontWeight":"bold"},"encoding":{"text":{"field":"t"}}}]}
   ],"spacing":2},
   {"hconcat":[
    {"width":642,"height":103,"view":{"stroke":"#333333","strokeWidth":1.3},
     "layer":[
      {"data":{"name":"chr"},"transform":[{"filter":"datum.ev"}],"mark":{"type":"rect","color":"#ebebeb"},"encoding":{"x":{"field":"s","type":"quantitative","scale":{"domain":[0,3036.3],"nice":false,"zero":false},"axis":null},"x2":{"field":"e"}}},
      {"data":{"name":"hl"},"mark":{"type":"rule","color":"#c4c4c4","strokeDash":[2,3],"strokeWidth":1},"encoding":{"y":{"field":"h","type":"quantitative","scale":{"domain":[-107,107],"nice":false},"axis":{"title":null,"values":[-100,-75,-50,-25,0,25,50,75,100],"labelExpr":"abs(datum.value)","labelFontSize":11,"labelColor":"#1a1a1a","tickSize":3,"labelPadding":1,"labelOverlap":false}}}},
      {"data":{"name":"chr"},"mark":{"type":"rule","color":"#9a9a9a","strokeDash":[5,4],"strokeWidth":1},"encoding":{"x":{"field":"cen","type":"quantitative","axis":null}}},
      {"data":{"name":"cnv"},"transform":[{"filter":"datum.g=='IG3'"}],"mark":{"type":"rect"},"encoding":{"x":{"field":"s","type":"quantitative","axis":null},"x2":{"field":"e"},"y":{"field":"v","type":"quantitative","axis":{"title":null,"values":[-100,-75,-50,-25,0,25,50,75,100],"labelExpr":"abs(datum.value)","labelFontSize":11,"labelColor":"#1a1a1a","tickSize":3,"labelPadding":1,"labelOverlap":false}},"y2":{"datum":0},"color":{"condition":{"test":"datum.v>0","value":"#ff0000"},"value":"#0000ff"}}},
      {"data":{"name":"chr"},"transform":[{"filter":"datum.s>0"}],"mark":{"type":"rule","color":"#999999","strokeWidth":1.4},"encoding":{"x":{"field":"s","type":"quantitative","axis":null}}},
      {"data":{"name":"zl"},"mark":{"type":"rule","color":"#b3b3b3","strokeWidth":2},"encoding":{"y":{"field":"z","type":"quantitative","axis":{"title":null,"values":[-100,-75,-50,-25,0,25,50,75,100],"labelExpr":"abs(datum.value)","labelFontSize":11,"labelColor":"#1a1a1a","tickSize":3,"labelPadding":1,"labelOverlap":false}}}},
      {"data":{"name":"genes"},"mark":{"type":"rule","color":"#6EC6E0","strokeWidth":1},"encoding":{"x":{"field":"x","type":"quantitative","axis":null}}}
     ]},
    {"width":24,"height":103,"view":{"stroke":null},"data":{"values":[{"t":"IG3 (n=7)"}]},
     "layer":[{"mark":{"type":"rect","color":"#D0021B"},"encoding":{}},{"mark":{"type":"text","angle":90,"color":"white","fontSize":14,"fontWeight":"bold"},"encoding":{"text":{"field":"t"}}}]}
   ],"spacing":2}
  ],"spacing":-4,"align":"each"},
  {"width":642,"height":68,"view":{"stroke":null},
   "layer":[
    {"data":{"name":"genes"},"mark":{"type":"rule","color":"#6EC6E0","strokeWidth":1},"encoding":{"x":{"field":"x","type":"quantitative","scale":{"domain":[0,3036.3],"nice":false,"zero":false},"axis":null},"y":{"datum":0,"type":"quantitative","scale":{"domain":[0,1],"reverse":true,"nice":false,"zero":false},"axis":null},"y2":{"datum":0.545}}},
    {"data":{"name":"chr"},"transform":[{"filter":"datum.ev"}],"mark":{"type":"text","fontSize":13,"color":"#1a1a1a","baseline":"middle"},"encoding":{"x":{"field":"m","type":"quantitative","axis":null},"y":{"datum":0.172,"type":"quantitative","axis":null},"text":{"field":"n"}}},
    {"data":{"name":"genes"},"mark":{"type":"text","fontSize":14.5,"fontStyle":"italic","fontWeight":"bold","color":"#3AABD2","baseline":"top","lineBreak":"\n","lineHeight":15.5},"encoding":{"x":{"field":"x","type":"quantitative","axis":null},"y":{"datum":0.56,"type":"quantitative","axis":null},"text":{"field":"lab"}}}
   ]}
 ],"spacing":-8,"align":"each"}
],
"spacing":8
}
